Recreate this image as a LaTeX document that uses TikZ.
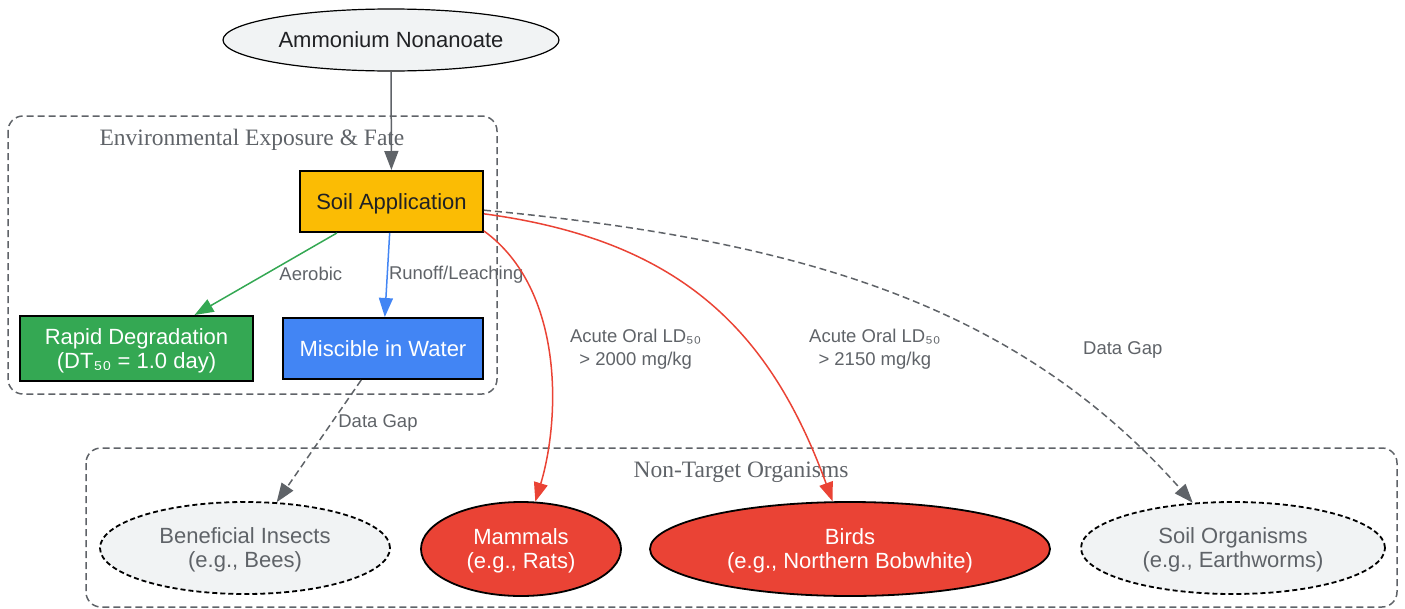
\documentclass[tikz,border=0pt]{standalone}
\usepackage{fontspec}
\setmainfont{Liberation Sans}
\newfontfamily\clusterfont{Liberation Serif}
\usetikzlibrary{arrows.meta,shapes.geometric}

\definecolor{soilyellow}{HTML}{FBBC04}
\definecolor{fategreen}{HTML}{34A853}
\definecolor{waterblue}{HTML}{4285F4}
\definecolor{toxred}{HTML}{EA4335}
\definecolor{paleg}{HTML}{F1F3F4}
\definecolor{edgegray}{HTML}{5F6368}
\definecolor{inkdark}{HTML}{202124}

\newcommand{\boxfont}{\fontsize{22}{24}\selectfont}
\newcommand{\edgefont}{\fontsize{18.5}{23}\selectfont}

\begin{document}
\begin{tikzpicture}[x=1pt,y=-1pt,>={Triangle[length=19pt,width=14pt]},
                    semithick]

  \tikzstyle{cluster}=[draw=edgegray,line width=1.5pt,dash pattern=on 7pt off 4pt,
                       rounded corners=15pt]
  \tikzstyle{clusterlabel}=[text=edgegray,font=\clusterfont\fontsize{23.5}{26}\selectfont]
  \tikzstyle{box}=[draw=black,line width=2pt,inner sep=0pt,align=center,font=\boxfont,
                   text depth=0pt]
  \tikzstyle{organism}=[ellipse,draw=black,line width=1.8pt,inner sep=0pt,align=center,
                        font=\boxfont,text depth=0pt]
  \tikzstyle{gap}=[organism,fill=paleg,text=edgegray,dash pattern=on 5pt off 3pt]
  \tikzstyle{tox}=[organism,fill=toxred,text=white]
  \tikzstyle{lbl}=[text=edgegray,font=\edgefont,align=center,inner sep=1pt]
  \tikzstyle{link}=[->,line width=1.5pt]

  \useasboundingbox (0,0) rectangle (1405,608);

  % clusters
  \draw[cluster] (8,116) rectangle (497,394);
  \node[clusterlabel] (envlabel) at (252,140) {Environmental Exposure \& Fate};
  \draw[cluster] (86,448) rectangle (1397,607);
  \node[clusterlabel] (ntolabel) at (741,472) {Non-Target Organisms};

  % nodes
  \node[ellipse,draw=black,line width=1.2pt,inner sep=0pt,font=\boxfont,
        fill=paleg,text=inkdark,minimum width=336pt,minimum height=62pt]
        (A) at (391,40) {Ammonium Nonanoate};
  \node[box,fill=soilyellow,text=inkdark,minimum width=183pt,minimum height=61pt]
        (S) at (391.5,201.5) {Soil Application};
  \node[box,fill=fategreen,text=white,minimum width=233pt,minimum height=65pt]
        (R) at (136.5,348.5) {Rapid Degradation\\(DT₅₀ = 1.0 day)};
  \node[box,fill=waterblue,text=white,minimum width=200pt,minimum height=61pt]
        (W) at (383,348.5) {Miscible in Water};
  \node[gap,minimum width=290pt,minimum height=92pt] (I) at (245,548)
        {Beneficial Insects\\(e.g., Bees)};
  \node[tox,minimum width=200pt,minimum height=94pt] (M) at (521,549)
        {Mammals\\(e.g., Rats)};
  \node[tox,minimum width=400pt,minimum height=94pt] (B) at (850,549)
        {Birds\\(e.g., Northern Bobwhite)};
  \node[gap,minimum width=304pt,minimum height=92pt] (O) at (1233,548)
        {Soil Organisms\\(e.g., Earthworms)};

  % edges
  \path (A) edge[link,draw=edgegray] (S)
        (S) edge[link,draw=fategreen]
              node[lbl,pos=0.5,anchor=west,xshift=12pt] {Aerobic} (R)
        (S) edge[link,draw=waterblue]
              node[lbl,pos=0.5,anchor=west] {Runoff/Leaching} (W)
        (W) edge[link,draw=edgegray,dash pattern=on 7pt off 4pt]
              node[lbl,pos=0.35,anchor=west,xshift=5pt] {Data Gap} (I);

  \draw[link,draw=toxred] ([yshift=2pt]S.south east)
        .. controls (565,290) and (560,420) .. (M)
        node[lbl,pos=0.5,anchor=west,xshift=19pt,yshift=9pt]
        {Acute Oral LD₅₀\\> 2000 mg/kg};
  \draw[link,draw=toxred] (S) .. controls (680,240) and (770,330) .. (B)
        node[lbl,pos=0.65,anchor=west,xshift=54pt,yshift=1pt]
        {Acute Oral LD₅₀\\> 2150 mg/kg};
  \draw[link,draw=edgegray,dash pattern=on 7pt off 4pt]
        (S) .. controls (800,240) and (1016,304) .. (O)
        node[lbl,pos=0.7,anchor=west,xshift=60pt,yshift=8pt] {Data Gap};
\end{tikzpicture}
\end{document}
